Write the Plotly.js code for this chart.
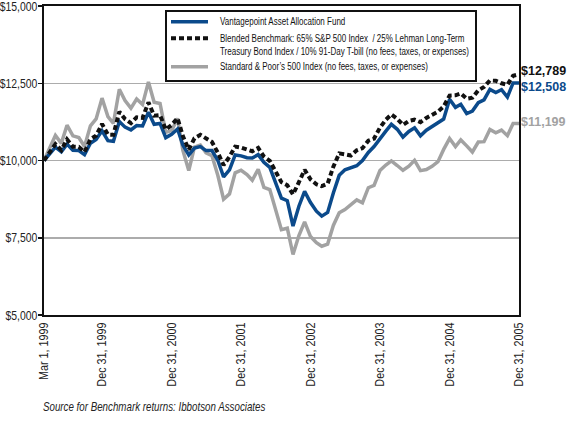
<!DOCTYPE html>
<html>
<head>
<meta charset="utf-8">
<script src="https://cdn.plot.ly/plotly-3.0.1.min.js"></script>
<style>
  html, body { margin: 0; padding: 0; background: #fff; }
  #chart { width: 570px; height: 424px; }
</style>
</head>
<body>
<div id="chart"></div>
<script>
// Growth of $10,000, monthly values, Mar 1 1999 .. Dec 31 2005 (83 points)
const fundValues = [10000, 10210, 10430, 10280, 10530, 10330, 10320, 10190, 10560, 10680,
  10960, 10640, 10620, 11260, 11080, 10990, 11130, 11120, 11560, 11170,
  11200, 10740, 10850, 11020, 10500, 10180, 10400, 10450, 10320, 10320,
  10000, 9470, 9700, 10180, 10150, 10090, 10080, 10190, 9940, 9780,
  9300, 8780, 8700, 7880, 8520, 9000, 8640, 8360, 8200, 8320,
  8950, 9520, 9700, 9760, 9830, 10000, 10260, 10450, 10680, 10950,
  11170, 11010, 10760, 10940, 11060, 10800, 10980, 11090, 11200, 11340,
  11980, 11720, 11820, 11520, 11600, 11870, 11960, 12300, 12200, 12290,
  12050, 12510, 12508];

const blendedValues = [10000, 10265, 10531, 10334, 10685, 10446, 10441, 10276, 10687, 10806,
  11181, 10838, 10834, 11580, 11340, 11210, 11400, 11380, 11880, 11450,
  11470, 11000, 11150, 11370, 10790, 10350, 10720, 10830, 10720, 10600,
  10250, 9850, 10120, 10450, 10420, 10360, 10300, 10410, 10130, 9990,
  9640, 9300, 9200, 8900, 9300, 9700, 9390, 9230, 9170, 9250,
  9800, 10230, 10200, 10160, 10330, 10400, 10640, 10710, 11060, 11320,
  11490, 11350, 11150, 11280, 11320, 11240, 11380, 11480, 11580, 11750,
  12100, 12110, 12170, 12000, 12030, 12270, 12380, 12590, 12580, 12500,
  12450, 12740, 12789];

const sp500Values = [10000, 10401, 10810, 10554, 11142, 10799, 10745, 10452, 11120, 11346,
  12018, 11421, 11205, 12306, 11942, 11695, 11990, 11810, 12543, 11887,
  11844, 10910, 10968, 11362, 10327, 9676, 10433, 10499, 10250, 10153,
  9514, 8748, 8918, 9601, 9685, 9547, 9361, 9718, 9133, 9061,
  8415, 7761, 7809, 6958, 7570, 8012, 7538, 7341, 7226, 7295,
  7897, 8309, 8414, 8561, 8726, 8633, 9119, 9195, 9675, 9855,
  9988, 9838, 9685, 9814, 10004, 9673, 9708, 9812, 9962, 10359,
  10710, 10452, 10664, 10473, 10275, 10597, 10609, 11006, 10896, 10985,
  10804, 11199, 11199];

const seriesNames = [
  "Vantagepoint Asset Allocation Fund",
  "Blended Benchmark: 65% S&amp;P 500 Index  / 25% Lehman Long-Term",
  "Treasury Bond Index / 10% 91-Day T-bill (no fees, taxes, or expenses)",
  "Standard &amp; Poor\u2019s 500 Index (no fees, taxes, or expenses)"
];
const endLabels = ["$12,508", "$12,789", "$11,199"];

const tickDates = ["1999-03-01", "1999-12-31", "2000-12-31", "2001-12-31", "2002-12-31", "2003-12-31", "2004-12-31", "2005-12-31"];
const tickLabels = ["Mar 1, 1999", "Dec 31, 1999", "Dec 31, 2000", "Dec 31, 2001", "Dec 31, 2002", "Dec 31, 2003", "Dec 31, 2004", "Dec 31, 2005"];
const yTicks = [5000, 7500, 10000, 12500, 15000];
const yTickLabels = ["$5,000", "$7,500", "$10,000", "$12,500", "$15,000"];
const sourceNote = "Source for Benchmark returns: Ibbotson Associates";

// Dates: start Mar 1, 1999, then month-ends
const dates = [];
for (let m = 0; m < fundValues.length; m++) {
  if (m === 0) { dates.push("1999-03-01"); continue; }
  const d = new Date(Date.UTC(1999, 2 + m, 0));
  dates.push(d.toISOString().slice(0, 10));
}

const FONT = '"Liberation Sans", Arial, sans-serif';
const BLUE = '#0b4a8b', BLACK = '#111111', GRAY = '#a2a2a2';

const traces = [
  { x: dates, y: sp500Values, name: "Standard & Poor's 500 Index", type: 'scatter', mode: 'lines',
    line: { color: GRAY, width: 3.5 }, hoverinfo: 'skip' },
  { x: dates, y: fundValues, name: "Vantagepoint Asset Allocation Fund", type: 'scatter', mode: 'lines',
    line: { color: BLUE, width: 3.5 }, hoverinfo: 'skip' },
  { x: dates, y: blendedValues, name: "Blended Benchmark", type: 'scatter', mode: 'lines',
    line: { color: BLACK, width: 4, dash: '5px,3px' }, hoverinfo: 'skip' }
];

// pixel -> paper helpers for the legend box (plot area: x 44..519, y 6..315)
const px = v => (v - 44) / 475;
const py = v => (315 - v) / 309;

const shapes = [
  { type: 'rect', xref: 'paper', yref: 'paper', x0: px(166), x1: px(476), y0: py(81), y1: py(11),
    line: { color: BLACK, width: 2 }, fillcolor: '#fff', layer: 'above' },
  { type: 'line', xref: 'paper', yref: 'paper', x0: px(171), x1: px(208), y0: py(21.7), y1: py(21.7),
    line: { color: BLUE, width: 3.5 }, layer: 'above' },
  { type: 'line', xref: 'paper', yref: 'paper', x0: px(171), x1: px(208), y0: py(38.3), y1: py(38.3),
    line: { color: BLACK, width: 4, dash: '5px,3px' }, layer: 'above' },
  { type: 'line', xref: 'paper', yref: 'paper', x0: px(171), x1: px(208), y0: py(66.7), y1: py(66.7),
    line: { color: GRAY, width: 3.5 }, layer: 'above' }
];

const legFont = { family: FONT, size: 10, color: '#111' };
const last = dates[dates.length - 1];
const annotations = [
  { x: px(218), y: py(21.7), text: seriesNames[0] },
  { x: px(218), y: py(38.3), text: seriesNames[1] },
  { x: px(218), y: py(51.7), text: seriesNames[2] },
  { x: px(218), y: py(66.7), text: seriesNames[3] }
].map(a => Object.assign(a, { xref: 'paper', yref: 'paper', showarrow: false, xanchor: 'left', yanchor: 'middle', align: 'left', font: legFont }));

annotations.push(
  { x: last, y: blendedValues[blendedValues.length - 1], xref: 'x', yref: 'y', text: endLabels[1],
    showarrow: false, xanchor: 'left', yanchor: 'middle', align: 'left', xshift: 1, yshift: 3, borderpad: 0,
    font: { family: FONT, size: 12.5, color: BLACK, weight: 'bold' } },
  { x: last, y: fundValues[fundValues.length - 1], xref: 'x', yref: 'y', text: endLabels[0],
    showarrow: false, xanchor: 'left', yanchor: 'middle', align: 'left', xshift: 1, yshift: -4, borderpad: 0,
    font: { family: FONT, size: 12.5, color: BLUE, weight: 'bold' } },
  { x: last, y: sp500Values[sp500Values.length - 1], xref: 'x', yref: 'y', text: endLabels[2],
    showarrow: false, xanchor: 'left', yanchor: 'middle', align: 'left', xshift: 1, yshift: 1, borderpad: 0,
    font: { family: FONT, size: 12.5, color: GRAY, weight: 'bold' } },
  { x: px(41), y: py(407), xref: 'paper', yref: 'paper', text: sourceNote,
    showarrow: false, xanchor: 'left', yanchor: 'middle', align: 'left',
    font: { family: FONT, size: 12.2, color: '#222', style: 'italic' } }
);

const layout = {
  width: 570, height: 424,
  margin: { l: 44, r: 51, t: 6, b: 109 },
  paper_bgcolor: '#fff', plot_bgcolor: '#fff',
  showlegend: false,
  xaxis: {
    type: 'date', range: ['1999-03-01', '2005-12-31'],
    tickmode: 'array', tickvals: tickDates, ticktext: tickLabels,
    tickangle: -90, ticks: '', showgrid: false, zeroline: false,
    showline: true, mirror: true, linecolor: '#111', linewidth: 2,
    tickfont: { family: FONT, size: 13.5, color: '#222' }, automargin: false,
    ticklabeloverflow: 'allow'
  },
  yaxis: {
    range: [5000, 15000], tickmode: 'array', tickvals: yTicks, ticktext: yTickLabels,
    ticks: 'outside', ticklen: 4, tickcolor: '#111', tickwidth: 1.5,
    showgrid: true, gridcolor: '#acacac', gridwidth: 1.5, zeroline: false,
    showline: true, mirror: true, linecolor: '#111', linewidth: 2,
    tickfont: { family: FONT, size: 13.5, color: '#222' }, automargin: false,
    ticklabeloverflow: 'allow'
  },
  shapes: shapes,
  annotations: annotations
};

// Narrow the type (the original uses a condensed face) while keeping real text;
// the anchor is converted to 'start' so the narrowed text keeps its aligned edge.
function condense(el, factor, dx) {
  const w = el.getComputedTextLength();
  if (!(w > 0)) return;
  const anchor = el.getAttribute('text-anchor') || getComputedStyle(el).textAnchor || 'start';
  const nw = w * factor;
  const x = parseFloat(el.getAttribute('x') || '0') + (dx || 0);
  let nx = x;
  if (anchor === 'end') nx = x - nw; else if (anchor === 'middle') nx = x - nw / 2;
  el.setAttribute('x', nx.toFixed(2));
  el.setAttribute('text-anchor', 'start');
  el.style.textAnchor = 'start';
  el.setAttribute('textLength', nw.toFixed(2));
  el.setAttribute('lengthAdjust', 'spacingAndGlyphs');
}

Plotly.newPlot('chart', traces, layout, { staticPlot: true, displayModeBar: false })
  .then(gd => {
    gd.querySelectorAll('.ytick text').forEach(el => condense(el, 0.77, 2));
    gd.querySelectorAll('.xtick text').forEach(el => condense(el, 0.8, 0));
    gd.querySelectorAll('.annotation-text').forEach(el => {
      if (!el.textContent.startsWith('$')) condense(el, 0.8, 0);
    });
  });
</script>
</body>
</html>
